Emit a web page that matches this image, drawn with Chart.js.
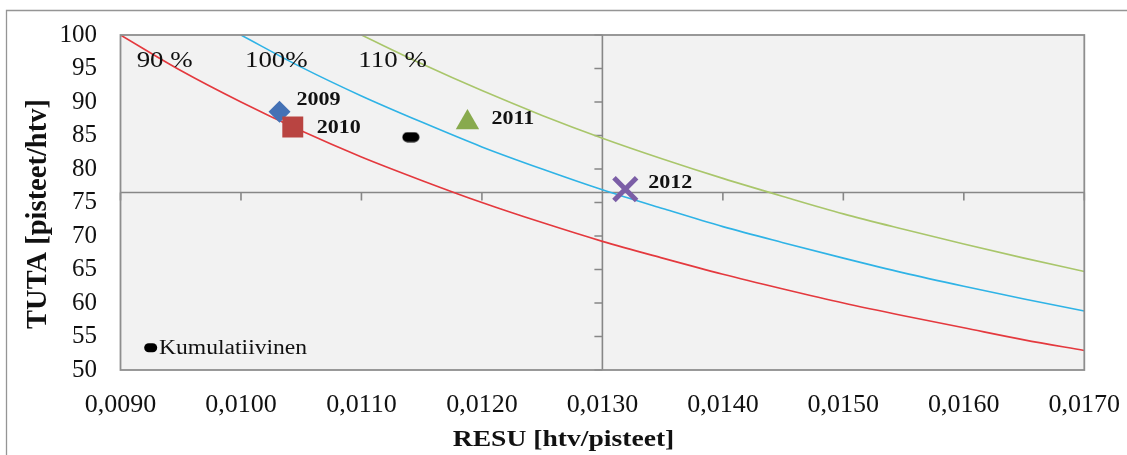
<!DOCTYPE html>
<html>
<head>
<meta charset="utf-8">
<script src="https://cdn.jsdelivr.net/npm/chart.js@4/dist/chart.umd.min.js"></script>
<style>
  html, body { margin: 0; padding: 0; background: #ffffff; }
  #wrap { width: 1127px; height: 455px; position: relative; }
</style>
</head>
<body>
<div id="wrap"><canvas id="c" width="1127" height="455"></canvas></div>
<script>
// Iso-productivity curves (TUTA x RESU constant), read every 0.0005 htv/piste
const curve90RESU  = [0.0090, 0.0095, 0.0100, 0.0105, 0.0110, 0.0115, 0.0120, 0.0125, 0.0130, 0.0135, 0.0140, 0.0145, 0.0150, 0.0155, 0.0160, 0.0165, 0.0170];
const curve90TUTA  = [100.0, 94.7, 90.0, 85.7, 81.8, 78.3, 75.0, 72.0, 69.2, 66.7, 64.3, 62.1, 60.0, 58.1, 56.3, 54.5, 52.9];
const curve100RESU = [0.0100, 0.0105, 0.0110, 0.0115, 0.0120, 0.0125, 0.0130, 0.0135, 0.0140, 0.0145, 0.0150, 0.0155, 0.0160, 0.0165, 0.0170];
const curve100TUTA = [100.0, 95.2, 90.9, 87.0, 83.3, 80.0, 76.9, 74.1, 71.4, 69.0, 66.7, 64.5, 62.5, 60.6, 58.8];
const curve110RESU = [0.0110, 0.0115, 0.0120, 0.0125, 0.0130, 0.0135, 0.0140, 0.0145, 0.0150, 0.0155, 0.0160, 0.0165, 0.0170];
const curve110TUTA = [100.0, 95.7, 91.7, 88.0, 84.6, 81.5, 78.6, 75.9, 73.3, 71.0, 68.8, 66.7, 64.7];
const curveLabels  = ['90 %', '100%', '110 %'];

// Yearly observations
const years    = ['2009', '2010', '2011', '2012'];
const yearRESU = [0.01032, 0.01043, 0.01188, 0.01319];
const yearTUTA = [88.55, 86.27, 86.95, 77.0];

// Cumulative observation
const cumLabel = 'Kumulatiivinen';
const cumRESU  = [0.01141];
const cumTUTA  = [84.75];

// Axes
const xMin = 0.0090, xMax = 0.0170, xStep = 0.0010;
const yMin = 50, yMax = 100, yStep = 5;
const crossRESU = 0.0130;   // vertical axis crosses here
const crossTUTA = 76.5;     // horizontal axis crosses here
const xTitle = 'RESU [htv/pisteet]';
const yTitle = 'TUTA [pisteet/htv]';

const SERIF = '"Liberation Serif", "Times New Roman", serif';

// ---- styles ----
const curveColors = ['#E4393E', '#2FB3E6', '#A9C66B'];
const yearStyles = [
  { pointStyle: 'rectRot',  radius: 11,   fill: '#4471B5', border: '#4471B5', bw: 0, order: 2 },
  { pointStyle: 'rect',     radius: 14.8, fill: '#B94441', border: '#B94441', bw: 0, order: 1 },
  { pointStyle: 'triangle', radius: 13.5, fill: '#88AA4D', border: '#88AA4D', bw: 0, order: 2 },
  { pointStyle: 'crossRot', radius: 16,   fill: '#7B5EA6', border: '#7B5EA6', bw: 5, order: 2 }
];
// label offsets from the marker centre: [dx to left edge, dy to text middle]
const yearLabelOffsets = [[17, -11.7], [24, 1], [24, -3.4], [23, -6.4]];
// curve captions anchored in data space (left edge, text middle)
const curveLabelAnchors = [[0.009134, 96.1], [0.010033, 96.1], [0.010974, 96.1]];

function pillMarker(w, h, color) {
  const c = document.createElement('canvas');
  c.width = w; c.height = h;
  const g = c.getContext('2d');
  g.fillStyle = color;
  g.beginPath();
  g.roundRect(0.5, 0.5, w - 1, h - 1, (h - 1) / 2);
  g.fill();
  return c;
}

const toXY = (xs, ys) => xs.map((x, i) => ({ x: x, y: ys[i] }));
const fmtRESU = v => Number(v).toFixed(4).replace('.', ',');

const datasets = [];
[[curve90RESU, curve90TUTA], [curve100RESU, curve100TUTA], [curve110RESU, curve110TUTA]].forEach((c, i) => {
  datasets.push({
    label: curveLabels[i],
    data: toXY(c[0], c[1]),
    showLine: true,
    borderColor: curveColors[i],
    backgroundColor: curveColors[i],
    borderWidth: 1.6,
    pointRadius: 0,
    cubicInterpolationMode: 'monotone',
    order: 10
  });
});
years.forEach((yr, i) => {
  const s = yearStyles[i];
  datasets.push({
    label: yr,
    data: [{ x: yearRESU[i], y: yearTUTA[i] }],
    pointStyle: s.pointStyle,
    pointRadius: s.radius,
    pointBackgroundColor: s.fill,
    pointBorderColor: s.border,
    pointBorderWidth: s.bw,
    showLine: false,
    order: s.order
  });
});
datasets.push({
  label: cumLabel,
  data: toXY(cumRESU, cumTUTA),
  pointStyle: pillMarker(18, 11, '#000000'),
  pointRadius: 9,
  showLine: false,
  order: 3
});

function drawText(ctx, text, x, y, font, align, sx) {
  ctx.save();
  ctx.font = font;
  ctx.fillStyle = '#111111';
  ctx.textBaseline = 'middle';
  ctx.textAlign = align || 'left';
  ctx.translate(x, y);
  ctx.scale(sx || 1, 1);
  ctx.fillText(text, 0, 0);
  ctx.restore();
}

// keep the plot area exactly where the layout padding puts it
function fixBox(size, key) {
  return s => {
    s[key] = size;
    s.paddingLeft = 0; s.paddingRight = 0; s.paddingTop = 0; s.paddingBottom = 0;
  };
}

const framePlugin = {
  id: 'frame',
  beforeDraw(chart) {
    const { ctx, chartArea: a, width, height } = chart;
    ctx.save();
    ctx.fillStyle = '#ffffff';
    ctx.fillRect(0, 0, width, height);
    // outer chart border
    ctx.strokeStyle = '#959595';
    ctx.lineWidth = 1.3;
    ctx.beginPath();
    ctx.moveTo(6.5, height);
    ctx.lineTo(6.5, 10.5);
    ctx.lineTo(width, 10.5);
    ctx.stroke();
    // plot area
    ctx.fillStyle = '#F2F2F2';
    ctx.fillRect(a.left, a.top, a.right - a.left, a.bottom - a.top);
    ctx.restore();
  },
  beforeDatasetsDraw(chart) {
    const { ctx, chartArea: a, scales: { x, y } } = chart;
    const px = x.getPixelForValue(crossRESU);
    const py = y.getPixelForValue(crossTUTA);
    ctx.save();
    ctx.strokeStyle = '#878787';
    ctx.lineWidth = 1.6;
    ctx.beginPath();
    ctx.moveTo(px, a.top); ctx.lineTo(px, a.bottom);
    ctx.moveTo(a.left, py); ctx.lineTo(a.right, py);
    // tick marks on the crossing axes
    y.ticks.forEach(t => {
      const ty = y.getPixelForValue(t.value);
      ctx.moveTo(px - 8, ty); ctx.lineTo(px, ty);
    });
    x.ticks.forEach(t => {
      const tx = x.getPixelForValue(t.value);
      ctx.moveTo(tx, py); ctx.lineTo(tx, py + 8);
    });
    ctx.stroke();
    ctx.restore();
  },
  afterDatasetsDraw(chart) {
    const { ctx, chartArea: a, scales: { x, y }, width } = chart;
    ctx.save();
    // plot border
    ctx.strokeStyle = '#8E8E8E';
    ctx.lineWidth = 1.8;
    ctx.strokeRect(a.left, a.top, a.right - a.left, a.bottom - a.top);
    ctx.restore();

    // year labels next to markers
    years.forEach((yr, i) => {
      const el = chart.getDatasetMeta(3 + i).data[0];
      const o = yearLabelOffsets[i];
      drawText(ctx, yr, el.x + o[0], el.y + o[1], 'bold 19.5px ' + SERIF, 'left', 1.13);
    });

    // curve captions
    curveLabels.forEach((t, i) => {
      const an = curveLabelAnchors[i];
      drawText(ctx, t, x.getPixelForValue(an[0]), y.getPixelForValue(an[1]), '23px ' + SERIF, 'left', 1.17);
    });

    // legend entry
    const lx = a.left + 30.2, ly = a.bottom - 22.2;
    ctx.save();
    ctx.fillStyle = '#000000';
    ctx.beginPath();
    ctx.roundRect(lx - 6.5, ly - 4.5, 13, 9, 4.5);
    ctx.fill();
    ctx.restore();
    drawText(ctx, cumLabel, lx + 8.3, ly + 1.2, '20px ' + SERIF, 'left', 1.18);

    // axis titles
    drawText(ctx, xTitle, width / 2, 440, 'bold 23px ' + SERIF, 'center', 1.2);
    ctx.save();
    ctx.translate(39, 214);
    ctx.rotate(-Math.PI / 2);
    drawText(ctx, yTitle, 0, 0, 'bold 28.5px ' + SERIF, 'center', 1);
    ctx.restore();
  }
};

new Chart(document.getElementById('c'), {
  type: 'scatter',
  data: { datasets: datasets },
  options: {
    responsive: false,
    animation: false,
    events: [],
    layout: { padding: { left: 0, right: 42.7, top: 35, bottom: 0 } },
    plugins: { legend: { display: false }, tooltip: { enabled: false } },
    scales: {
      x: {
        type: 'linear', min: xMin, max: xMax,
        grid: { display: false, drawTicks: false },
        border: { display: false },
        ticks: {
          stepSize: xStep, autoSkip: false, maxRotation: 0, padding: 20,
          color: '#111111', font: { family: SERIF, size: 26 },
          callback: v => fmtRESU(v)
        },
        afterFit: fixBox(85, 'height')
      },
      y: {
        type: 'linear', min: yMin, max: yMax,
        grid: { display: false, drawTicks: false },
        border: { display: false },
        ticks: {
          stepSize: yStep, autoSkip: false, padding: 23.5,
          color: '#111111', font: { family: SERIF, size: 25 }
        },
        afterFit: fixBox(120.5, 'width')
      }
    }
  },
  plugins: [framePlugin]
});
</script>
</body>
</html>
